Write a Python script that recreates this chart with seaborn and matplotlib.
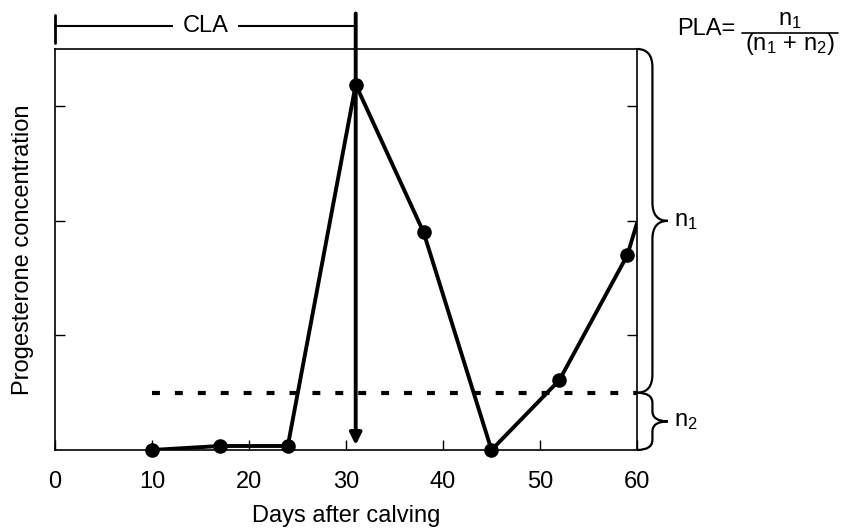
import matplotlib
matplotlib.use("Agg")
import matplotlib.pyplot as plt
import matplotlib.transforms as mtransforms
from matplotlib.path import Path
from matplotlib.patches import PathPatch
from matplotlib.lines import Line2D
import pandas as pd
import seaborn as sns

# data
days = [10, 17, 24, 31, 38, 45, 52, 59]
progesterone = [0.0, 0.035, 0.035, 3.19, 1.90, 0.0, 0.61, 1.70]
line_end_day = 60
line_end_value = 1.98
threshold = 0.5
threshold_start = 10
cla_day = 31
x_ticks = [0, 10, 20, 30, 40, 50, 60]
y_ticks = [1, 2, 3]
y_top = 3.5

sns.set_style("ticks")
plt.rcParams["font.family"] = ["Liberation Sans", "DejaVu Sans"]
plt.rcParams["mathtext.fontset"] = "custom"
plt.rcParams["mathtext.rm"] = "Liberation Sans"
plt.rcParams["mathtext.it"] = "Liberation Sans:italic"
plt.rcParams["mathtext.bf"] = "Liberation Sans:bold"
for key in ["text.color", "axes.labelcolor", "xtick.color", "ytick.color",
            "axes.edgecolor"]:
    plt.rcParams[key] = "black"

FS = 17
W, H = 844, 531

fig = plt.figure(figsize=(W / 100, H / 100), dpi=100)
ax = fig.add_axes([55 / W, 1 - 450 / H, (637 - 55) / W, (450 - 49) / H])

df = pd.DataFrame({"day": days, "prog": progesterone})
line_df = pd.DataFrame({"day": days + [line_end_day],
                        "prog": progesterone + [line_end_value]})

# connecting line (runs on to the right edge), then the sampled points
sns.lineplot(data=line_df, x="day", y="prog", color="black", lw=2.8,
             sort=False, ax=ax, clip_on=True)
sns.scatterplot(data=df, x="day", y="prog", color="black", s=110,
                edgecolor="black", linewidth=0, ax=ax, zorder=5, clip_on=False)

# threshold
ax.plot([threshold_start, x_ticks[-1]], [threshold, threshold], color="black",
        lw=3, dashes=(1.9, 3.6))

ax.set_xlim(x_ticks[0], x_ticks[-1])
ax.set_ylim(0, y_top)
ax.set_xticks(x_ticks)
ax.set_yticks(y_ticks)
ax.set_yticklabels([])
ax.tick_params(axis="both", direction="in", length=7, width=1, color="black",
               labelcolor="black", labelsize=FS, pad=15)
ax.tick_params(axis="y", right=True)
for sp in ax.spines.values():
    sp.set_visible(True)
    sp.set_linewidth(1.2)
    sp.set_color("black")

ax.set_xlabel("Days after calving", fontsize=FS, labelpad=9)
ax.set_ylabel("Progesterone concentration", fontsize=FS)
ax.yaxis.set_label_coords(-0.036, 0.5)

# CLA arrow and bracket
ax.annotate("", xy=(cla_day, 0.043), xytext=(cla_day, 3.81),
            arrowprops=dict(arrowstyle="-|>,head_length=0.5,head_width=0.25",
                            lw=2.8, color="black", mutation_scale=14,
                            shrinkA=0, shrinkB=0),
            annotation_clip=False)
ax.plot([0, cla_day], [3.70, 3.70], color="black", lw=1.5, clip_on=False)
ax.plot([0, 0], [3.55, 3.80], color="black", lw=2, clip_on=False)
ax.text(cla_day / 2, 3.70, "CLA", ha="center", va="center", fontsize=FS,
        bbox=dict(boxstyle="square,pad=0.4", fc="white", ec="none"),
        clip_on=False)


def brace(ax, y0, y1, w, r):
    trans = mtransforms.blended_transform_factory(ax.transAxes, ax.transData)
    x0 = 1.0
    xm = x0 + w / 2
    xt = x0 + w
    ym = (y0 + y1) / 2
    verts = [(x0, y1), (xm, y1), (xm, y1 - r), (xm, ym + r), (xm, ym),
             (xt, ym), (xm, ym), (xm, ym - r), (xm, y0 + r), (xm, y0),
             (x0, y0)]
    codes = [Path.MOVETO, Path.CURVE3, Path.CURVE3, Path.LINETO, Path.CURVE3,
             Path.CURVE3, Path.CURVE3, Path.CURVE3, Path.LINETO, Path.CURVE3,
             Path.CURVE3]
    ax.add_patch(PathPatch(Path(verts, codes), transform=trans, fill=False,
                           lw=1.6, ec="black", clip_on=False))
    ax.text(xt + 0.01, ym, "n$_1$" if y0 > 0 else "n$_2$", transform=trans,
            ha="left", va="center", fontsize=FS)


brace(ax, threshold, y_top, 0.053, 0.16)
brace(ax, 0, threshold, 0.053, 0.09)

# PLA formula
fig.text(677 / W, 1 - 35 / H, "PLA=", ha="left", va="baseline", fontsize=FS)
fig.add_artist(Line2D([742 / W, 838 / W], [1 - 33 / H, 1 - 33 / H],
                      color="black", lw=1.2))
fig.text(790 / W, 1 - 25 / H, "n$_1$", ha="center", va="baseline", fontsize=FS)
fig.text(790 / W, 1 - 50 / H, "(n$_1$ + n$_2$)", ha="center", va="baseline",
         fontsize=FS)

fig.savefig("out.png", dpi=100)
